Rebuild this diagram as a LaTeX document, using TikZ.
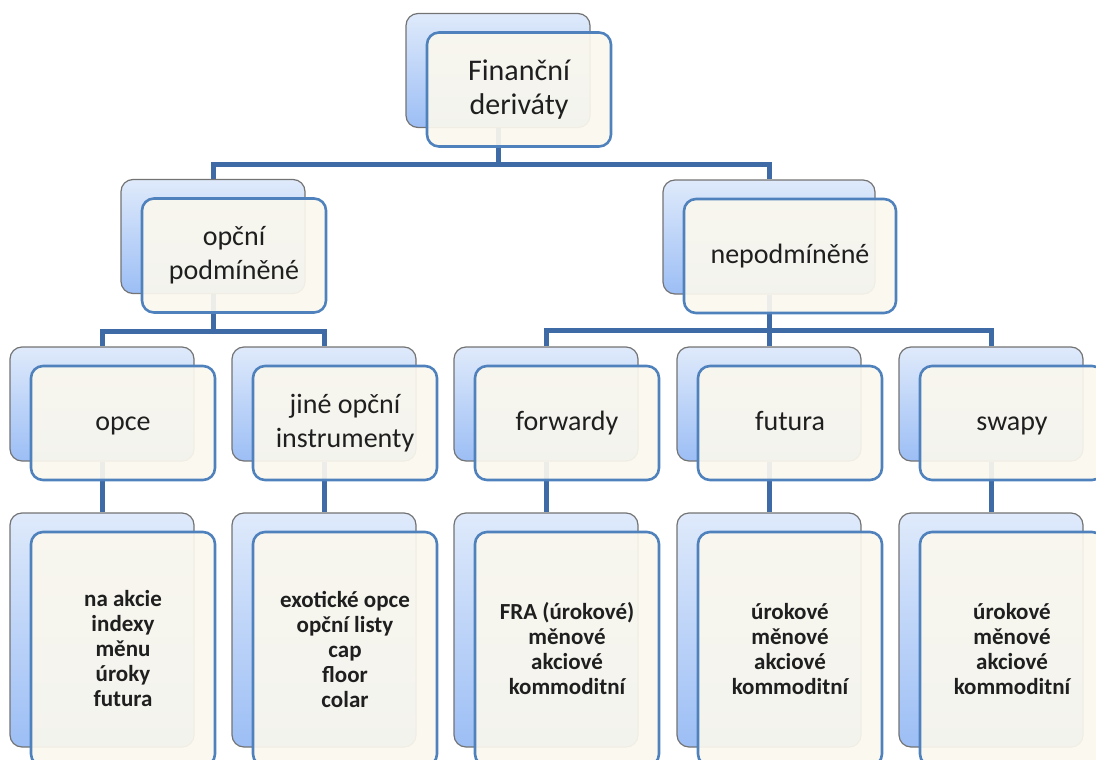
\documentclass[tikz,border=0pt]{standalone}
\usepackage{fontspec}
\setmainfont{Carlito}
\usetikzlibrary{backgrounds,positioning}
\definecolor{lnblue}{RGB}{62,106,166}
\definecolor{frblue}{RGB}{79,129,189}
\definecolor{bktop}{RGB}{223,234,251}
\definecolor{bkbot}{RGB}{156,190,245}
\definecolor{cream}{RGB}{251,248,238}
\newcommand{\cardbox}[4][]{\node[back,#1] (#2) at (#3) {};
  \node[front,#1] (#2f) at ([shift={(21pt,-19pt)}]#2.center) {#4};}
\tikzset{back/.style={draw=black!55,line width=1.2pt,rounded corners=12pt,top color=bktop,bottom color=bkbot,
    minimum width=184pt,minimum height=114pt,inner sep=0pt},
  front/.style={draw=frblue,line width=2.6pt,rounded corners=12pt,fill=cream,fill opacity=0.92,text opacity=1,
    minimum width=184pt,minimum height=114pt,inner sep=2pt,align=center,text=black!88,font=\fontsize{28}{34}\selectfont},
  one/.style={text height=20pt,text depth=5pt},
  leaf/.style={minimum height=234pt,font=\fontsize{23}{25}\selectfont\bfseries},
  conn/.style={lnblue,line width=5pt}}

\begin{document}
\begin{tikzpicture}[x=1pt,y=-1pt]
\path[use as bounding box] (0,0) rectangle (1096,760);
\clip (0,0) rectangle (1096,760);
\cardbox[font=\fontsize{30}{34}\selectfont]{root}{498,70.5}{Finanční\\deriváty}
\cardbox{opt}{213,236.5}{opční\\podmíněné}
\cardbox[minimum width=212pt,one]{nopt}{769,237}{nepodmíněné}
\cardbox[one]{opce}{102,404}{opce} \cardbox{jine}{324,404}{jiné opční\\instrumenty}
\cardbox[one]{fwd}{546,404}{forwardy} \cardbox[one]{fut}{769,404}{futura} \cardbox[one]{swp}{991,404}{swapy}
\cardbox[leaf]{opce-sub}{102,630}{na akcie\\indexy\\měnu\\úroky\\futura}
\cardbox[leaf]{jine-sub}{324,630}{exotické opce\\opční listy\\cap\\floor\\colar}
\cardbox[leaf]{fwd-sub}{546,630}{FRA (úrokové)\\měnové\\akciové\\kommoditní}
\cardbox[leaf]{fut-sub}{769,630}{úrokové\\měnové\\akciové\\kommoditní}
\cardbox[leaf]{swp-sub}{991,630}{úrokové\\měnové\\akciové\\kommoditní}
\begin{scope}[on background layer]
\draw[conn] (root.south) -- ++(0,36) -| (opt.north); \draw[conn] (root.south) -- ++(0,36) -| (nopt.north);
\foreach \a in {opce,jine} \draw[conn] (opt.south) -- ++(0,37) -| (\a.north);
\foreach \a in {fwd,fut,swp} \draw[conn] (nopt.south) -- ++(0,36) -| (\a.north);
\foreach \a in {opce,jine,fwd,fut,swp} \draw[conn] (\a.south) -- (\a-sub.north);
\end{scope}
\end{tikzpicture}
\end{document}
